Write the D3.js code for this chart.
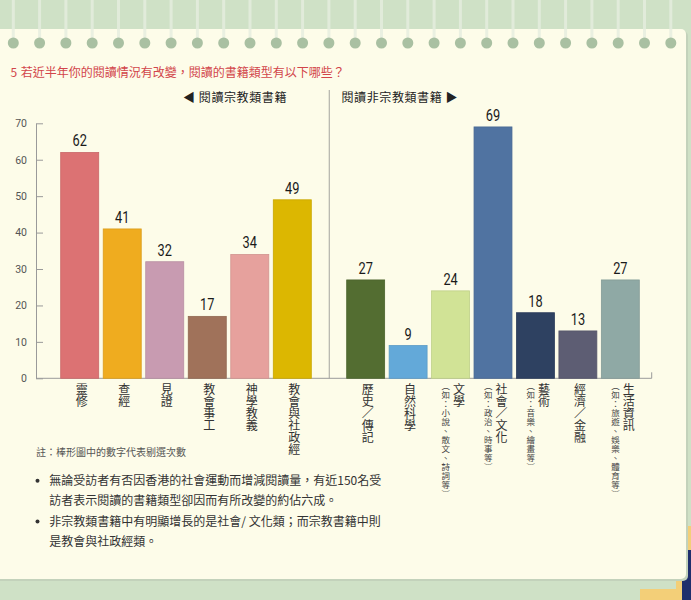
<!DOCTYPE html>
<html lang="zh-TW">
<head>
<meta charset="utf-8">
<title>閱讀的書籍類型</title>
<script src="https://cdn.jsdelivr.net/npm/d3@7/dist/d3.min.js"></script>
<style>
  body { margin: 0; background: #cfe1c6; }
  svg { display: block; }
  #graph { position: relative; width: 691px; height: 600px; }
  .vlab {
    position: absolute;
    writing-mode: vertical-rl;
    white-space: nowrap;
    font-family: 'Noto Sans CJK TC', 'Noto Sans CJK SC', sans-serif;
  }
</style>
</head>
<body>
<div id="graph"></div>
<script>
    // data
    var leftCats = ["靈修", "查經", "見證", "教會事工", "神學教義", "教會與社政經"];
    var leftValues = [62, 41, 32, 17, 34, 49];
    var rightCats = ["歷史／傳記", "自然科學", "文學", "社會／文化", "藝術", "經濟／金融", "生活資訊"];
    var rightNotes = ["", "", "（如：小說、散文、詩詞等）", "（如：政治、時事等）", "（如：音樂、繪畫等）", "", "（如：旅遊、娛樂、體育等）"];
    var rightValues = [27, 9, 24, 69, 18, 13, 27];
    var yTicks = [0, 10, 20, 30, 40, 50, 60, 70];

    var leftPalette = ["#dc7273", "#efac1f", "#c89bb1", "#a0725a", "#e6a19d", "#dcb701"];
    var rightPalette = ["#536d31", "#63a9d9", "#d1e396", "#5073a1", "#2e4161", "#5d5d73", "#8fa9a5"];

    var width = 691, height = 600;
    var cjk = "'Noto Sans CJK TC', 'Noto Sans CJK SC', sans-serif";
    var num = "Roboto, 'Liberation Sans', sans-serif";

    var graph = d3.select("#graph");
    var svg = graph.append("svg")
            .attr("width", width)
            .attr("height", height);

    // background: green paper, cream notebook card with ring holes
    svg.append("rect").attr("width", width).attr("height", height).attr("fill", "#cfe1c6");
    svg.append("rect").attr("x", 676).attr("y", 526).attr("width", 15).attr("height", 74).attr("fill", "#f3cf78");
    svg.append("rect").attr("x", 682).attr("y", 550).attr("width", 9).attr("height", 50).attr("fill", "#1f2f6c");
    svg.append("rect").attr("x", 640).attr("y", 589).attr("width", 40).attr("height", 11).attr("fill", "#f3cf78");
    svg.append("rect").attr("x", -10).attr("y", 31).attr("width", 698).attr("height", 550)
            .attr("rx", 5).attr("fill", "#c3d2bb");
    svg.append("rect").attr("x", -10).attr("y", 29).attr("width", 696).attr("height", 550)
            .attr("rx", 5).attr("fill", "#fdfce9");

    var rings = d3.range(26);
    var ringG = svg.append("g");
    ringG.selectAll("line").data(rings).enter().append("line")
            .attr("x1", function (d) { return 13.3 + d * 26.3; })
            .attr("x2", function (d) { return 13.3 + d * 26.3; })
            .attr("y1", 0).attr("y2", 40)
            .attr("stroke", "#e6eee0").attr("stroke-width", 3).attr("opacity", 0.8);
    ringG.selectAll("ellipse").data(rings).enter().append("ellipse")
            .attr("cx", function (d) { return 13.3 + d * 26.3; })
            .attr("cy", 43).attr("rx", 5.5).attr("ry", 5.5)
            .attr("fill", "#a9c0a2");

    // title
    var title = svg.append("text")
            .attr("y", 77)
            .attr("font-family", cjk).attr("font-size", 12)
            .attr("fill", "#d2454a");
    title.append("tspan").attr("x", 10.5).text("5");
    title.append("tspan").attr("x", 20.7).text("若近半年你的閱讀情況有改變，閱讀的書籍類型有以下哪些？");

    // scales
    var y = d3.scaleLinear().domain([0, 70]).range([378.3, 123.3]);
    var xL = d3.scaleBand().domain(leftCats).range([60.7, 311.3]).paddingInner(0.106);
    var xR = d3.scaleBand().domain(rightCats).range([346.7, 639.3]).paddingInner(0.106);

    // group headers and divider
    svg.append("line").attr("x1", 329.3).attr("x2", 329.3).attr("y1", 90).attr("y2", y(0))
            .attr("stroke", "#b3b3ab").attr("stroke-width", 1.2);
    svg.append("text").attr("x", 287).attr("y", 102).attr("text-anchor", "end")
            .attr("font-family", cjk).attr("font-size", 12).attr("letter-spacing", 0.6)
            .attr("fill", "#222").text("◀ 閱讀宗教類書籍");
    svg.append("text").attr("x", 341.5).attr("y", 102)
            .attr("font-family", cjk).attr("font-size", 12).attr("letter-spacing", 0.6)
            .attr("fill", "#222").text("閱讀非宗教類書籍 ▶");

    // y axis
    var yAxis = svg.append("g")
            .attr("transform", "translate(36,0)")
            .call(d3.axisLeft(y).tickValues(yTicks).tickSize(-7).tickSizeOuter(0).tickPadding(9));
    yAxis.select(".domain").attr("stroke", "#9a9a9a");
    yAxis.selectAll(".tick line").attr("stroke", "#9a9a9a");
    yAxis.selectAll(".tick text").attr("font-family", num).attr("font-size", 10.5).attr("fill", "#555");

    // baseline
    svg.append("path")
            .attr("d", "M36," + y(0) + "H651.7V" + (y(0) - 6))
            .attr("fill", "none").attr("stroke", "#9a9a9a");

    function drawGroup(cats, values, palette, x) {
        var g = svg.append("g");
        g.selectAll("rect").data(values).enter().append("rect")
                .attr("x", function (d, i) { return x(cats[i]); })
                .attr("y", function (d) { return y(d); })
                .attr("width", x.bandwidth())
                .attr("height", function (d) { return y(0) - y(d); })
                .attr("fill", function (d, i) { return palette[i]; })
                .attr("stroke", function (d, i) { return d3.color(palette[i]).darker(0.25); })
                .attr("stroke-width", 0.8);
        // condensed-looking value labels
        g.selectAll("text").data(values).enter().append("text")
                .attr("transform", function (d, i) {
                    return "translate(" + (x(cats[i]) + x.bandwidth() / 2) + "," + (y(d) - 6) + ") scale(0.8,1)";
                })
                .attr("text-anchor", "middle")
                .attr("font-family", num).attr("font-size", 16)
                .attr("fill", "#1a1a1a")
                .text(function (d) { return d; });
    }
    drawGroup(leftCats, leftValues, leftPalette, xL);
    drawGroup(rightCats, rightValues, rightPalette, xR);

    // vertical category labels as html columns over the svg
    function vLabel(cx, top, txt, size, spacing, color) {
        graph.append("div").attr("class", "vlab")
                .style("left", (cx - size / 2) + "px")
                .style("top", top + "px")
                .style("font-size", size + "px")
                .style("line-height", size + "px")
                .style("letter-spacing", spacing + "px")
                .style("color", color)
                .text(txt);
    }
    leftCats.forEach(function (c) {
        vLabel(xL(c) + xL.bandwidth() / 2 + 1.5, 383, c, 12, 0, "#333");
    });
    rightCats.forEach(function (c, i) {
        var cx = xR(c) + xR.bandwidth() / 2;
        if (rightNotes[i]) {
            vLabel(cx + 8, 383, c, 12, 0, "#333");
            vLabel(cx - 5, 381.5, rightNotes[i], 8.5, 0.5, "#444");
        } else {
            vLabel(cx + 1.5, 383, c, 12, 0, "#333");
        }
    });

    // footnote
    svg.append("text").attr("x", 36).attr("y", 455.5)
            .attr("font-family", cjk).attr("font-size", 10).attr("fill", "#555")
            .text("註：棒形圖中的數字代表剔選次數");

    // bullet notes
    var notes = [
        { t: "無論受訪者有否因香港的社會運動而增減閱讀量，有近150名受", b: true },
        { t: "訪者表示閱讀的書籍類型卻因而有所改變的約佔六成。", b: false },
        { t: "非宗教類書籍中有明顯增長的是社會/ 文化類；而宗教書籍中則", b: true },
        { t: "是教會與社政經類。", b: false }
    ];
    var ng = svg.append("g").attr("font-family", cjk).attr("font-size", 12).attr("fill", "#333");
    notes.forEach(function (n, i) {
        var yy = 485 + i * 20.3;
        if (n.b) {
            ng.append("circle").attr("cx", 37.5).attr("cy", yy - 4.2).attr("r", 2).attr("fill", "#333");
        }
        ng.append("text").attr("x", 49.3).attr("y", yy).text(n.t);
    });
</script>
</body>
</html>
